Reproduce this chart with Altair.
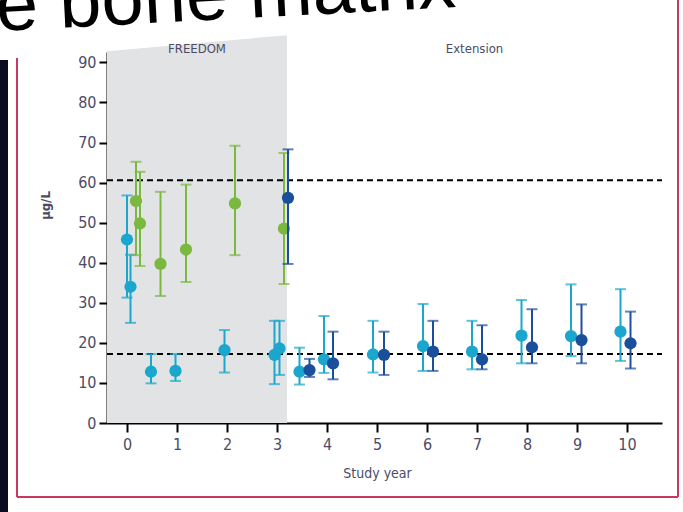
import altair as alt
import pandas as pd

# Serum level (µg/L) by study year: mean with 95% CI, three groups
cyan_year = [0.0, 0.07, 0.48, 0.97, 1.95, 2.95, 3.05, 3.45, 3.94, 4.92, 5.92, 6.9, 7.89, 8.88, 9.87]
cyan_mid = [45.8, 34.0, 12.8, 13.0, 18.2, 17.0, 18.6, 12.8, 15.9, 17.1, 19.2, 17.8, 21.8, 21.7, 22.8]
cyan_lo = [31.3, 25.0, 9.9, 10.5, 12.6, 9.7, 12.0, 9.6, 12.5, 12.6, 13.0, 13.4, 14.9, 16.7, 15.5]
cyan_hi = [56.8, 42.0, 17.2, 17.2, 23.2, 25.5, 25.5, 18.8, 26.7, 25.5, 29.7, 25.5, 30.7, 34.6, 33.4]

green_year = [0.18, 0.26, 0.67, 1.18, 2.16, 3.14]
green_mid = [55.4, 49.8, 39.7, 43.3, 54.8, 48.5]
green_lo = [41.9, 39.2, 31.7, 35.2, 41.9, 34.7]
green_hi = [65.2, 62.7, 57.7, 59.5, 69.2, 67.4]

navy_year = [3.22, 3.65, 4.12, 5.14, 6.12, 7.1, 8.1, 9.09, 10.07]
navy_mid = [56.2, 13.2, 14.9, 17.0, 17.8, 15.9, 18.9, 20.7, 19.9]
navy_lo = [39.7, 11.5, 10.9, 12.0, 13.0, 13.4, 14.9, 14.9, 13.6]
navy_hi = [68.3, 16.0, 22.8, 22.8, 25.5, 24.4, 28.4, 29.6, 27.8]

reference_levels = [60.6, 17.2]

phase_names = ["FREEDOM", "Extension"]
phase_start = [-0.4, 3.2]
phase_end = [3.2, 10.7]
shade_top = [92.8, 96.8]  # shaded FREEDOM band, top edge left/right

x_ticks = list(range(0, 11))
y_ticks = list(range(0, 100, 10))

CYAN = "#1ba6cd"
GREEN = "#7bb83f"
NAVY = "#1b4f9c"
LABEL = "#4b4b66"
FONT = "DejaVu Sans Condensed, Liberation Sans, sans-serif"

xs = alt.Scale(domain=[-0.4, 10.7], nice=False, zero=False)
ys = alt.Scale(domain=[0, 92.6], nice=False)

x_axis = alt.Axis(values=x_ticks, title="Study year", grid=False, tickSize=9,
                  tickWidth=2, domainWidth=2, domainColor="black", tickColor="black",
                  labelFontSize=16, labelColor=LABEL, labelPadding=4,
                  labelFont=FONT, titleFont=FONT,
                  titleFontSize=14, titleFontWeight="normal", titleColor=LABEL,
                  titleX=270, titleY=43)
y_axis = alt.Axis(values=y_ticks, title="µg/L", grid=False, tickSize=8,
                  tickWidth=2, domainWidth=2, domainColor="black", tickColor="black",
                  labelFontSize=16, labelColor=LABEL, labelPadding=3,
                  labelFont=FONT, titleFont=FONT,
                  titleFontSize=13, titleFontWeight="bold", titleColor=LABEL,
                  titleX=-62, titleY=153, titleAngle=270, titleBaseline="middle")

one = pd.DataFrame({"k": [0]})

# shaded FREEDOM phase
shade = alt.Chart(pd.DataFrame({"x": phase_start[:1] + phase_end[:1], "top": shade_top})).mark_area(
    color="#e2e3e5", clip=False
).encode(
    x=alt.X("x:Q", scale=xs, axis=x_axis),
    y=alt.Y("top:Q", scale=ys, axis=y_axis),
    y2=alt.datum(0),
)

phases = pd.DataFrame({"name": phase_names, "a": phase_start, "b": phase_end})
phases["c"] = (phases["a"] + phases["b"]) / 2
phase_text = alt.Chart(phases).mark_text(
    fontSize=13, color=LABEL, font=FONT, baseline="middle"
).encode(x=alt.X("c:Q", scale=xs), y=alt.value(-3), text="name:N")

ref = alt.Chart(pd.DataFrame({"v": reference_levels})).mark_rule(
    color="black", strokeWidth=2, strokeDash=[6, 4]
).encode(y=alt.Y("v:Q", scale=ys), x=alt.value(0), x2=alt.value(555))


def series(years, mid, lo, hi, color):
    df = pd.DataFrame({"year": years, "mid": mid, "lo": lo, "hi": hi})
    base = alt.Chart(df).encode(x=alt.X("year:Q", scale=xs))
    bars = base.mark_rule(color=color, strokeWidth=2).encode(
        y=alt.Y("lo:Q", scale=ys), y2="hi:Q")
    cap_lo = base.mark_tick(color=color, orient="horizontal", size=11, thickness=2).encode(
        y=alt.Y("lo:Q", scale=ys))
    cap_hi = base.mark_tick(color=color, orient="horizontal", size=11, thickness=2).encode(
        y=alt.Y("hi:Q", scale=ys))
    dots = base.mark_circle(color=color, size=150, opacity=1).encode(
        y=alt.Y("mid:Q", scale=ys))
    return bars + cap_lo + cap_hi + dots


# slide frame around the figure
BORDER = "#c83a5c"
frame_left = alt.Chart(one).mark_rule(color=BORDER, strokeWidth=2).encode(
    x=alt.value(-90), y=alt.value(6), y2=alt.value(445))
frame_right = alt.Chart(one).mark_rule(color=BORDER, strokeWidth=2).encode(
    x=alt.value(571), y=alt.value(-52), y2=alt.value(445))
frame_bottom = alt.Chart(one).mark_rule(color=BORDER, strokeWidth=2).encode(
    x=alt.value(-90), x2=alt.value(571), y=alt.value(445))
side_bar = alt.Chart(one).mark_rect(color="#0b0b22").encode(
    x=alt.value(-107), x2=alt.value(-99), y=alt.value(8), y2=alt.value(460))
heading = alt.Chart(one).mark_text(
    text="e bone matrix", fontSize=76, font="Liberation Sans", color="black",
    align="left", baseline="alphabetic", angle=357
).encode(x=alt.value(-110), y=alt.value(-21))

chart = alt.layer(
    shade, frame_left, frame_right, frame_bottom, side_bar, heading, phase_text, ref,
    series(cyan_year, cyan_mid, cyan_lo, cyan_hi, CYAN),
    series(green_year, green_mid, green_lo, green_hi, GREEN),
    series(navy_year, navy_mid, navy_lo, navy_hi, NAVY),
).properties(
    width=555, height=371,
    padding={"left": 107, "top": 52, "right": 21, "bottom": 89},
    autosize="none", background="white",
).configure_view(stroke=None)

chart.save("out.html", embed_options={"renderer": "svg", "actions": False})
